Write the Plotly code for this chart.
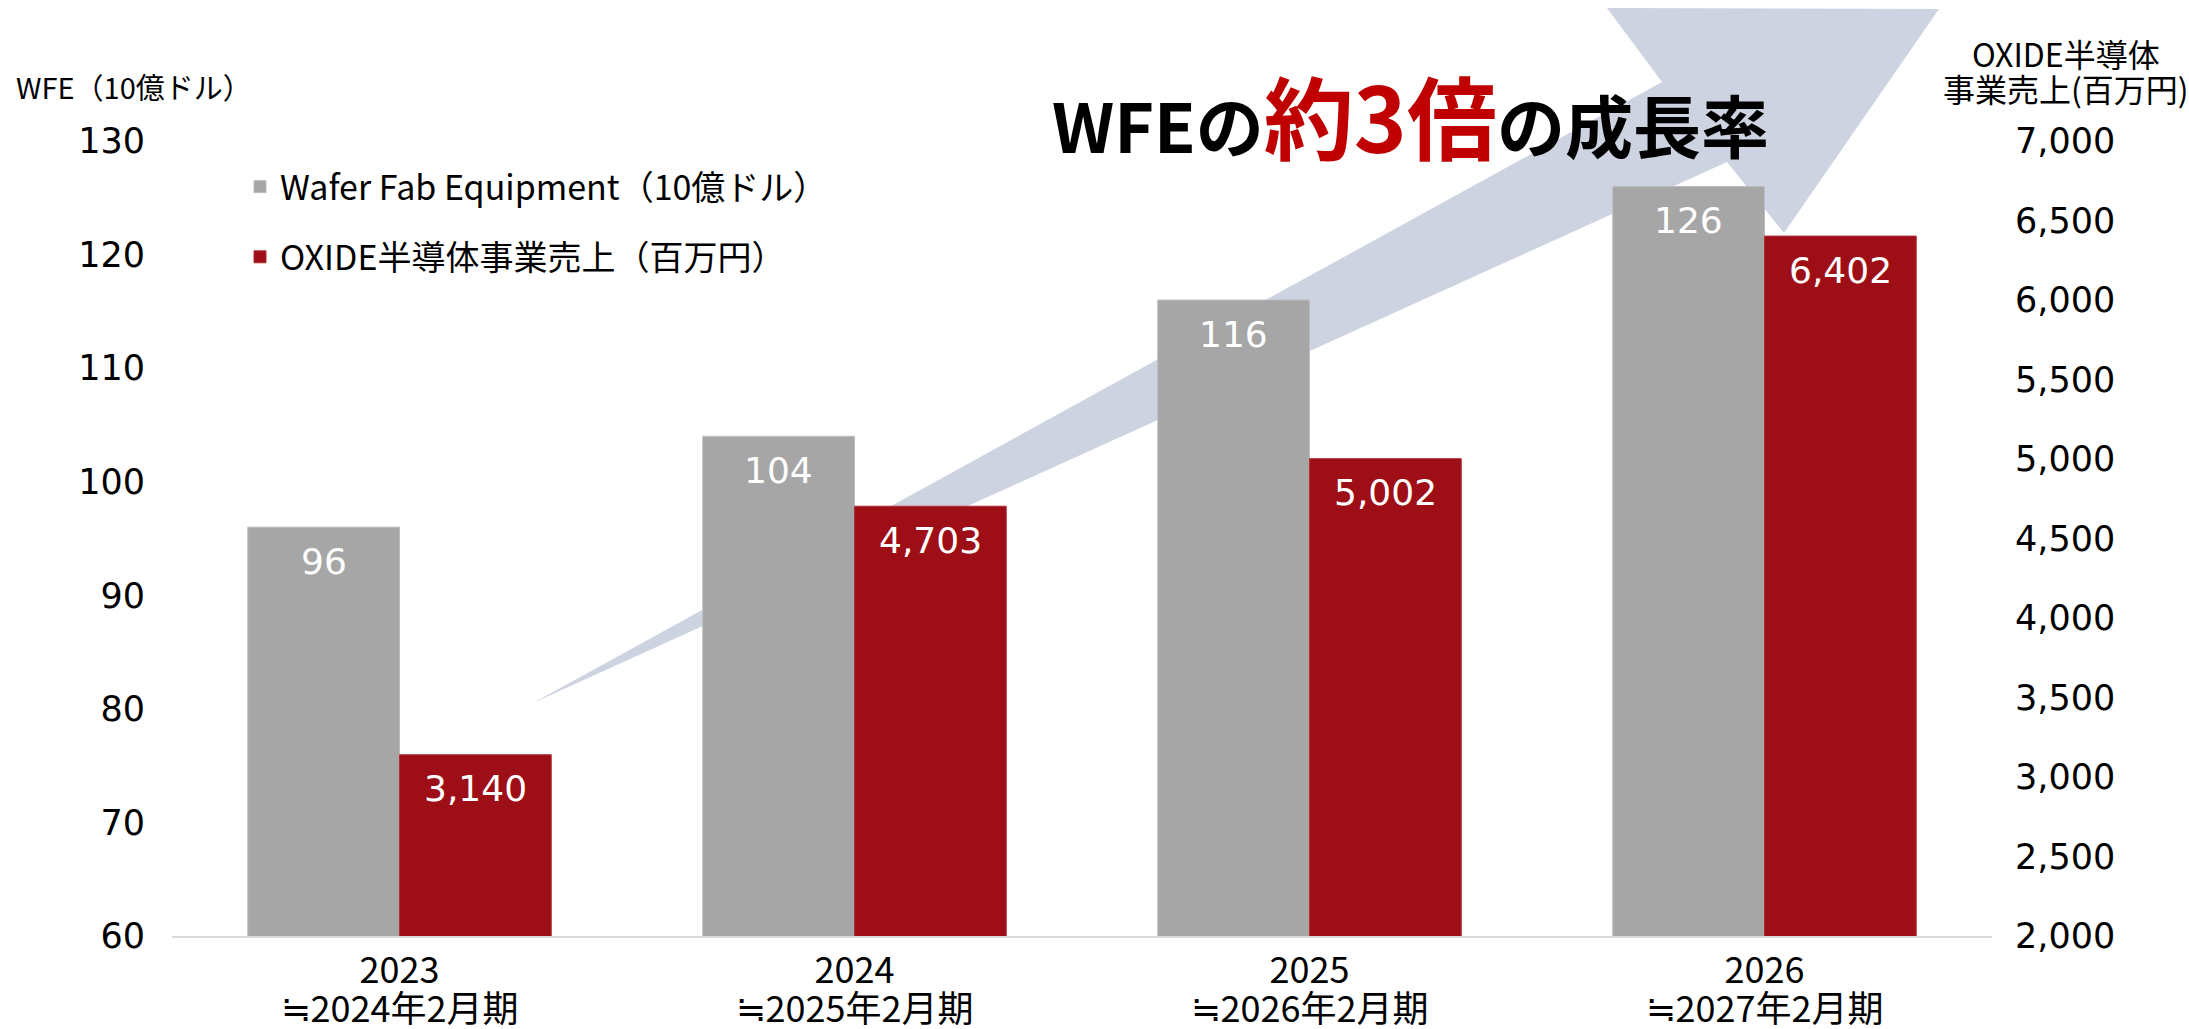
import plotly.graph_objects as go

# ---- data ----
years = ["2023", "2024", "2025", "2026"]
fiscal = ["≒2024年2月期", "≒2025年2月期", "≒2026年2月期", "≒2027年2月期"]
wfe = [96, 104, 116, 126]            # Wafer Fab Equipment (10億ドル)
oxide = [3140, 4703, 5002, 6402]     # OXIDE半導体事業売上 (百万円)
wfe_name = "Wafer Fab Equipment（10億ドル）"
oxide_name = "OXIDE半導体事業売上（百万円）"

# ---- layout constants ----
W, H = 2189, 1029
ML, MR, MT, MB = 172, 197, 141, 93
PW, PH = W - ML - MR, H - MT - MB
GRAY = "#A6A6A6"
RED = "#9E0E16"
ARROW = "#CDD3E0"
JP = "Noto Sans CJK JP"
NUM = "DejaVu Sans"
BW = 0.3335  # bar width in category units

def px(x):
    return (x - ML) / PW

def py(y):
    return (H - MB - y) / PH

def big(s, size):
    return f'<span style="font-size:{size}px">{s}</span>'

idx = list(range(len(years)))

fig = go.Figure()
fig.add_trace(go.Bar(
    x=idx, y=wfe, name=wfe_name, width=BW, offset=-BW,
    marker=dict(color=GRAY, line=dict(color="#BDBDBD", width=1)),
    legendgroup="a", yaxis="y", hoverinfo="skip"))
fig.add_trace(go.Bar(
    x=idx, y=oxide, name=oxide_name, width=BW, offset=0,
    marker=dict(color=RED, line=dict(color="#B03038", width=1)),
    legendgroup="b", yaxis="y2", hoverinfo="skip"))

# decorative arrow (pixel geometry)
arrow_px = [(533, 703), (1662, 82), (1607, 8), (1939, 9), (1784, 233), (1727, 162)]
path = "M " + " L ".join(f"{px(x):.5f},{py(y):.5f}" for x, y in arrow_px) + " Z"
fig.add_shape(type="path", path=path, xref="paper", yref="paper",
              fillcolor=ARROW, line=dict(width=0), layer="below")

ann = []
# value labels inside bars
for i, v in enumerate(wfe):
    ann.append(dict(x=i - BW / 2, y=v, xref="x", yref="y", yshift=-34,
                    text=f"{v:,}", showarrow=False, yanchor="middle",
                    font=dict(family=NUM, size=36, color="white")))
for i, v in enumerate(oxide):
    ann.append(dict(x=i + BW / 2, y=v, xref="x", yref="y2", yshift=-34,
                    text=f"{v:,}", showarrow=False, yanchor="middle",
                    font=dict(family=NUM, size=36, color="white")))

# axis titles
ann.append(dict(x=px(14), y=py(86), xref="paper", yref="paper", xanchor="left", yanchor="middle",
                text="WFE（10億ドル）", showarrow=False,
                font=dict(family=JP, size=29, color="black")))
ann.append(dict(x=px(2066), y=py(70), xref="paper", yref="paper", xanchor="center", yanchor="middle",
                text=big("OXIDE半導体", 32) + "<br>" + big("事業売上(百万円)", 32), showarrow=False,
                font=dict(family=JP, size=27, color="black")))
# headline
ann.append(dict(x=px(1410), y=py(114), xref="paper", yref="paper", xanchor="center", yanchor="middle",
                text='<b>WFEの<span style="color:#C00000;font-size:90px">約3倍</span>の成長率</b>',
                showarrow=False, font=dict(family=JP, size=68, color="black")))

fig.update_layout(
    width=W, height=H,
    margin=dict(l=ML, r=MR, t=MT, b=MB, autoexpand=False),
    paper_bgcolor="white", plot_bgcolor="rgba(0,0,0,0)",
    barmode="overlay",
    showlegend=True,
    legend=dict(x=px(240), y=py(158), xanchor="left", yanchor="top",
                font=dict(family=JP, size=34, color="black"),
                traceorder="grouped", tracegroupgap=23, bgcolor="rgba(0,0,0,0)"),
    xaxis=dict(range=[-0.5, len(years) - 0.5], tickmode="array", tickvals=idx,
               ticktext=[big(y, 36) + "<br>" + big(f, 36) for y, f in zip(years, fiscal)],
               showline=True, linecolor="#D9D9D9", linewidth=2, showgrid=False, zeroline=False,
               ticks="", tickangle=0, ticklabelstandoff=9,
               tickfont=dict(family=JP, size=30, color="black")),
    yaxis=dict(range=[60, 130], dtick=10, showgrid=False, zeroline=False, showline=False,
               ticks="", ticklabelstandoff=26,
               tickfont=dict(family=NUM, size=35, color="black")),
    yaxis2=dict(range=[2000, 7000], dtick=500, tickformat=",", overlaying="y", side="right",
                showgrid=False, zeroline=False, showline=False, ticks="", ticklabelstandoff=22,
                tickfont=dict(family=NUM, size=35, color="black")),
    annotations=ann,
)

fig.write_html("out.html", config={"displayModeBar": False},
               post_script="document.body.style.margin='0';")
